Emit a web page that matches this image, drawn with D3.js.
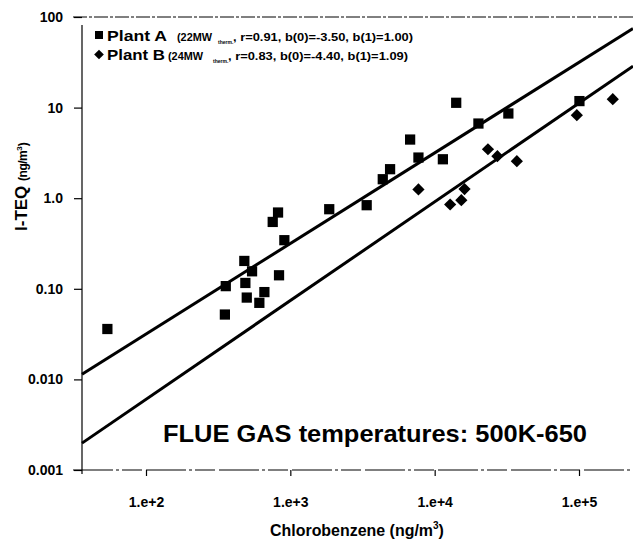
<!DOCTYPE html>
<head>
  <meta charset="utf-8">
  <style>
    body { margin: 0; background: #fff; }
    svg { display: block; }
    text { font-family: "Liberation Sans", Arial, sans-serif; fill: #000; }
    .tick text { font-size: 14px; font-weight: bold; }
    .tick line { stroke: #000; stroke-width: 1.2; }
  </style>
  <script src="https://cdn.jsdelivr.net/npm/d3@7"></script>
</head>
<body>
  <script>

    // Plant A (squares): chlorobenzene ng/m3 vs I-TEQ ng/m3
    const plantAX = [54, 357, 352, 480, 488, 499, 543, 610, 661, 755, 822, 909, 835,
                     1860, 3380, 4370, 4910, 6760, 7720, 11400, 14100, 20100, 32400, 100700];
    const plantAY = [0.036, 0.107, 0.052, 0.203, 0.116, 0.080, 0.156, 0.070, 0.092, 0.547, 0.695, 0.344, 0.141,
                     0.756, 0.837, 1.62, 2.09, 4.44, 2.81, 2.69, 11.3, 6.67, 8.61, 11.8];

    // Plant B (diamonds)
    const plantBX = [7720, 12800, 15300, 16100, 23400, 27200, 37100, 96600, 171400];
    const plantBY = [1.25, 0.852, 0.950, 1.26, 3.47, 2.91, 2.56, 8.24, 12.4];

    // regression: log10(y) = b0 + b1 * log10(x)
    const fitB0 = [-3.50, -4.40];
    const fitB1 = [1.00, 1.09];

    const xTicks = [100, 1000, 10000, 100000];
    const xTickLabels = ['1.e+2', '1.e+3', '1.e+4', '1.e+5'];
    const yTicks = [0.001, 0.01, 0.1, 1, 10, 100];
    const yTickLabels = ['0.001', '0.010', '0.10', '1.0', '10', '100'];

    const w = 633, h = 541;
    const padL = 82, padR = 633, padT = 17, padB = 470;

    const svg = d3.select('body').append('svg')
          .attr('width', w)
          .attr('height', h);

    const xScale = d3.scaleLog()
                    .domain([100, 100000])
                    .range([146, 579]);

    const yScale = d3.scaleLog()
                    .domain([0.001, 100])
                    .range([padB, padT]);

    // frame lines (top and bottom run a bit past the y axis like the ticks)
    svg.append('line')
       .attr('x1', 73).attr('x2', padR)
       .attr('y1', padT).attr('y2', padT)
       .attr('stroke', '#000').attr('stroke-width', 1)
       .attr('stroke-dasharray', '14,2,3,2');
    svg.append('line')
       .attr('x1', 73).attr('x2', padR)
       .attr('y1', padB).attr('y2', padB)
       .attr('stroke', '#000').attr('stroke-width', 1.2)
       .attr('stroke-dasharray', '40,3,3,3,20,4');
    svg.append('line')
       .attr('x1', padL).attr('x2', padL)
       .attr('y1', padT + 8).attr('y2', padB + 4)
       .attr('stroke', '#000').attr('stroke-width', 1.2);

    const xAxis = d3.axisBottom(xScale)
                    .tickValues(xTicks)
                    .tickSize(6)
                    .tickPadding(21)
                    .tickFormat((d, i) => xTickLabels[i]);

    svg.append('g')
       .attr('class', 'x axis')
       .attr('transform', `translate(0, ${padB})`)
       .call(xAxis)
       .call(g => g.select('.domain').remove());

    const yAxis = d3.axisLeft(yScale)
                    .tickValues(yTicks)
                    .tickSize(8)
                    .tickPadding(11)
                    .tickFormat((d, i) => yTickLabels[i]);

    svg.append('g')
       .attr('class', 'y axis')
       .attr('transform', `translate(${padL}, 0)`)
       .call(yAxis)
       .call(g => g.select('.domain').remove());

    // regression lines
    const xLo = xScale.invert(padL), xHi = xScale.invert(padR);
    fitB0.forEach((b0, i) => {
      const f = (x) => Math.pow(10, b0 + fitB1[i] * Math.log10(x));
      svg.append('line')
         .attr('x1', xScale(xLo)).attr('y1', yScale(f(xLo)))
         .attr('x2', xScale(xHi)).attr('y2', yScale(f(xHi)))
         .attr('stroke', '#000')
         .attr('stroke-width', 3);
    });

    const dataA = plantAX.map((x, i) => [x, plantAY[i]]);
    const dataB = plantBX.map((x, i) => [x, plantBY[i]]);

    const square = d3.symbol().type(d3.symbolSquare).size(105);
    const diamond = d3.symbol().type(d3.symbolDiamond2).size(95);

    svg.append('g')
       .selectAll('path')
       .data(dataA)
       .enter()
       .append('path')
       .attr('d', square)
       .attr('transform', (d) => `translate(${xScale(d[0])}, ${yScale(d[1])})`)
       .attr('fill', '#000');

    svg.append('g')
       .selectAll('path')
       .data(dataB)
       .enter()
       .append('path')
       .attr('d', diamond)
       .attr('transform', (d) => `translate(${xScale(d[0])}, ${yScale(d[1])})`)
       .attr('fill', '#000');

    // legend
    const legend = svg.append('g');
    legend.append('path')
          .attr('d', d3.symbol().type(d3.symbolSquare).size(64))
          .attr('transform', 'translate(99, 35)');
    legend.append('path')
          .attr('d', d3.symbol().type(d3.symbolDiamond2).size(60))
          .attr('transform', 'translate(99, 54.5)');

    const legendRows = [
      { y: 40.5, name: 'Plant A', nameLen: 60, mw: '(22MW', mwX: 177, mwLen: 35, subX: 218,
        tail: ', r=0.91, b(0)=-3.50, b(1)=1.00)', tailX: 233, tailLen: 180 },
      { y: 59.5, name: 'Plant B', nameLen: 58, mw: '(24MW', mwX: 168, mwLen: 35, subX: 213,
        tail: ', r=0.83, b(0)=-4.40, b(1)=1.09)', tailX: 228, tailLen: 180 }
    ];

    legendRows.forEach((r) => {
      const t = legend.append('text').attr('y', r.y).attr('font-weight', 'bold');
      t.append('tspan').attr('x', 107).attr('font-size', 15)
       .attr('textLength', r.nameLen).attr('lengthAdjust', 'spacingAndGlyphs').text(r.name);
      t.append('tspan').attr('x', r.mwX).attr('font-size', 11)
       .attr('textLength', r.mwLen).attr('lengthAdjust', 'spacingAndGlyphs').text(r.mw);
      t.append('tspan').attr('x', r.subX).attr('y', r.y + 3).attr('font-size', 5).text('therm.');
      t.append('tspan').attr('x', r.tailX).attr('y', r.y).attr('font-size', 11)
       .attr('textLength', r.tailLen).attr('lengthAdjust', 'spacingAndGlyphs').text(r.tail);
    });

    // annotation
    svg.append('text')
       .attr('x', 163).attr('y', 442)
       .attr('font-size', 24)
       .attr('font-weight', 'bold')
       .attr('textLength', 424)
       .attr('lengthAdjust', 'spacingAndGlyphs')
       .text('FLUE GAS temperatures: 500K-650');

    // axis titles
    const xt = svg.append('text')
       .attr('x', 270).attr('y', 536)
       .attr('font-weight', 'bold');
    xt.append('tspan').attr('font-size', 16)
      .attr('textLength', 163).attr('lengthAdjust', 'spacingAndGlyphs').text('Chlorobenzene (ng/m');
    xt.append('tspan').attr('font-size', 10).attr('dy', -7).text('3');
    xt.append('tspan').attr('font-size', 16).attr('dy', 7).text(')');

    const yt = svg.append('text')
       .attr('transform', 'translate(27, 231) rotate(-90)')
       .attr('font-weight', 'bold');
    yt.append('tspan').attr('font-size', 17).text('I-TEQ ');
    yt.append('tspan').attr('font-size', 12).attr('letter-spacing', -0.5).text('(ng/m');
    yt.append('tspan').attr('font-size', 8).attr('dy', -5).text('3');
    yt.append('tspan').attr('font-size', 12).attr('dy', 5).text(')');

  </script>
</body>
